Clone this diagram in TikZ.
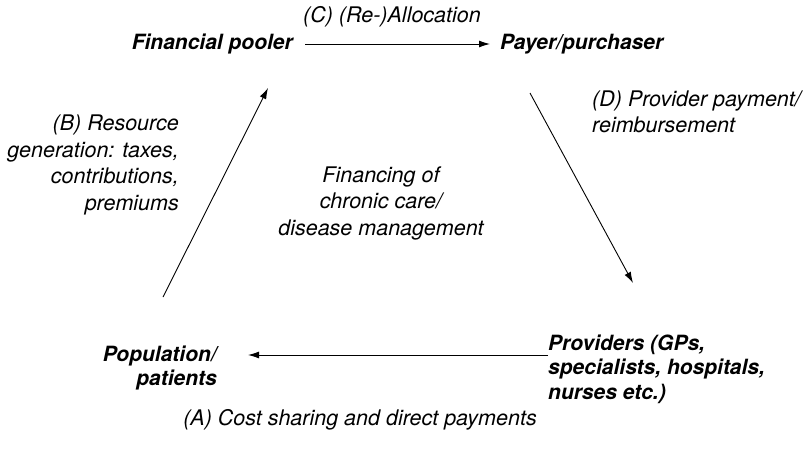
\documentclass[tikz,border=0pt]{standalone}
\usepackage{fontspec}
\setmainfont{TeX Gyre Heros}
\usetikzlibrary{arrows.meta, positioning}

\tikzset{
  hub/.style={inner sep=0pt, font=\fontsize{21}{24.5}\selectfont\bfseries\itshape},
  flow/.style={inner sep=0pt, font=\fontsize{21.5}{26.5}\selectfont\itshape},
  flowarrow/.style={line width=0.9pt, -{Latex[length=11pt, width=7pt]}}
}

\begin{document}
\begin{tikzpicture}[x=1pt, y=-1pt]
\useasboundingbox (0,0) rectangle (809,458);

% actors
\node[hub, anchor=east] (pooler) at (293,44) {Financial pooler};
\node[hub, anchor=west] (payer) at (500,44) {Payer/purchaser};
\node[hub, align=right, anchor=east] (patients) at (217,368) {Population/\\patients};
\node[hub, align=left, anchor=west] (providers) at (548,369) {Providers (GPs,\\specialists, hospitals,\\nurses etc.)};

% flow labels
\node[flow] (lblC) at (392,17) {(C) (Re-)Allocation};
\node[flow, align=right, anchor=east] (lblB) at (179,165) {(B) Resource\\generation: taxes,\\contributions,\\premiums};
\node[flow, align=left, anchor=west] (lblD) at (592,112) {(D) Provider payment/\\reimbursement};
\node[flow, align=center] (core) at (381,203) {Financing of\\chronic care/\\disease management};
\node[flow] (lblA) at (360,420) {(A) Cost sharing and direct payments};

% flows
\coordinate (b tail) at (163,297);
\coordinate (b tip) at (268,88);
\coordinate (d tail) at (530,93);
\coordinate (d tip) at (633,283);

\draw[flowarrow] ([xshift=12pt]pooler.east) -- ([xshift=-10pt]payer.west);
\draw[flowarrow] (d tail) -- (d tip);
\draw[flowarrow] ([yshift=14pt]providers.west) -- ([xshift=31pt, yshift=13pt]patients.east);
\draw[flowarrow] (b tail) -- (b tip);

\end{tikzpicture}
\end{document}
